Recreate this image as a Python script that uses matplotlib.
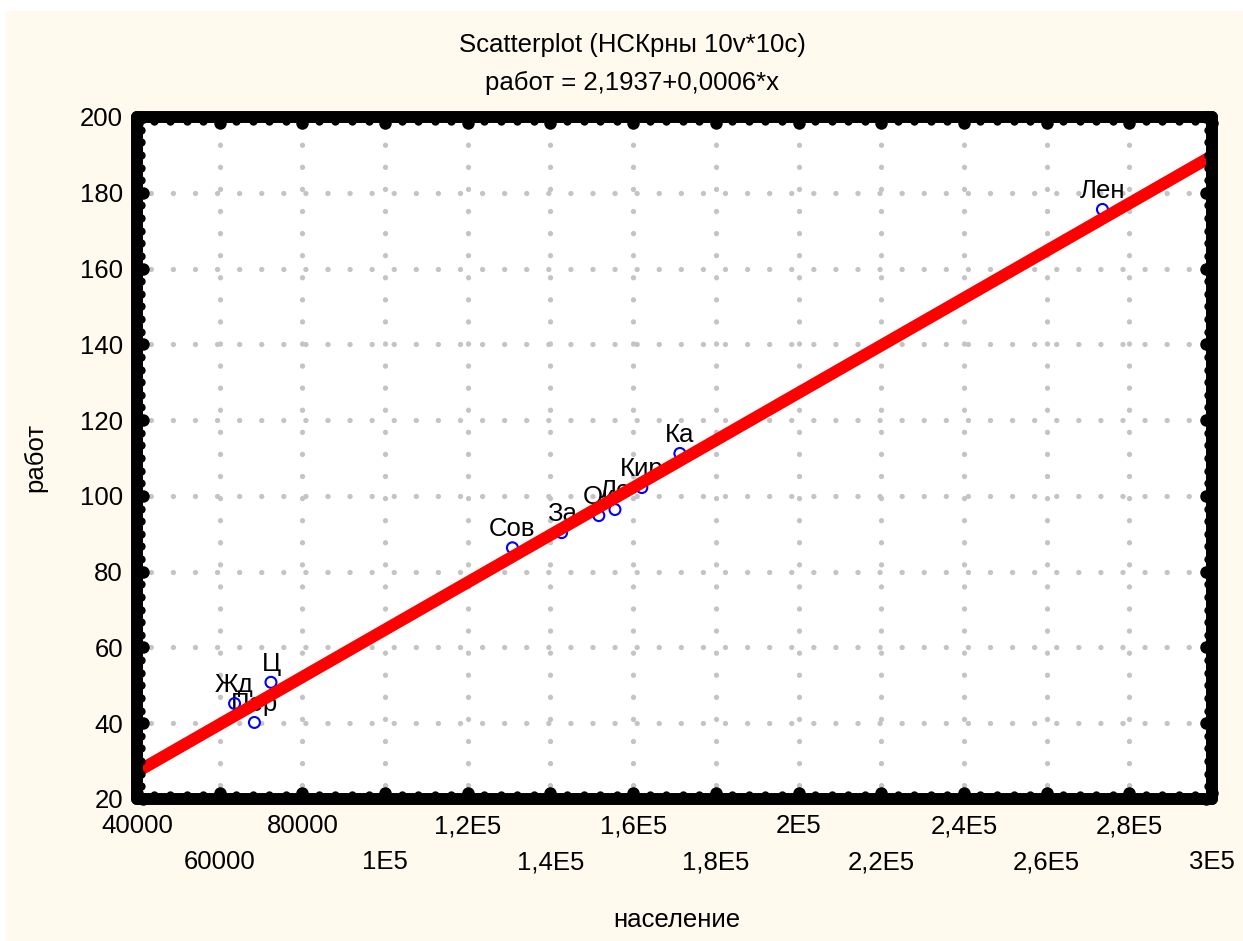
import matplotlib
matplotlib.use("Agg")
import matplotlib.pyplot as plt
import matplotlib.transforms as mtransforms
from matplotlib.patches import Rectangle
from matplotlib.ticker import AutoMinorLocator, FixedLocator
import numpy as np

# ---- data ----
names = ["Жд", "Ц", "Пер", "Сов", "За", "Ок", "Ле", "Кир", "Ка", "Лен"]
population = [63600, 72400, 68400, 130800, 142700, 151700, 155600, 162100, 171300, 273500]
jobs = [45.2, 50.8, 40.2, 86.3, 90.3, 94.8, 96.4, 102.2, 111.2, 175.6]
intercept = 2.1937
slope = 0.000625
x_ticks = list(range(40000, 300001, 20000))
x_tick_labels = ["40000", "60000", "80000", "1E5", "1,2E5", "1,4E5", "1,6E5",
                 "1,8E5", "2E5", "2,2E5", "2,4E5", "2,6E5", "2,8E5", "3E5"]
y_ticks = list(range(20, 201, 20))
title_line1 = "Scatterplot (НСКрны 10v*10c)"
title_line2 = "работ = 2,1937+0,0006*x"
x_label = "население"
y_label = "работ"

plt.rcParams['font.family'] = ['Liberation Sans', 'DejaVu Sans']
plt.rcParams['lines.scale_dashes'] = False
FS = 18.5
W, H = 1243, 941

fig = plt.figure(figsize=(W / 100, H / 100), dpi=100, facecolor='white')
fig.patches.append(Rectangle((6 / W, 0), 1, 1 - 11 / H, transform=fig.transFigure,
                             facecolor='#FFF9EE', edgecolor='none', zorder=-10))

L, R, T, B = 137, 1212, 117, 799
ax = fig.add_axes([L / W, 1 - B / H, (R - L) / W, (B - T) / H])
ax.set_facecolor('white')
ax.set_xlim(40000, 300000)
ax.set_ylim(20, 200)

ax.xaxis.set_major_locator(FixedLocator(x_ticks))
ax.yaxis.set_major_locator(FixedLocator(y_ticks))
ax.xaxis.set_minor_locator(AutoMinorLocator(5))
ax.yaxis.set_minor_locator(AutoMinorLocator(6))

disp_labels = [lab if i % 2 == 0 else "\n" + lab for i, lab in enumerate(x_tick_labels)]
ax.set_xticklabels(disp_labels, fontsize=FS)
ax.set_yticklabels([str(v) for v in y_ticks], fontsize=FS)
for lbl in ax.get_xticklabels():
    lbl.set_linespacing(1.62)
ax.tick_params(which='both', length=0)
ax.tick_params(axis='x', pad=11)
ax.tick_params(axis='y', pad=10)

# dotted grid at the major tick positions (dot every ~22 px)
xmaj = ax.xaxis.get_majorticklocs()
xmin = ax.xaxis.get_minorticklocs()
ymaj = ax.yaxis.get_majorticklocs()
ymin = ax.yaxis.get_minorticklocs()
grid_style = (6.0, (0.1, 15.8))
for v in xmaj:
    ax.axvline(v, color='#C4C4C4', linewidth=3.8, linestyle=grid_style,
               dash_capstyle='round', zorder=1)
for v in ymaj:
    ax.axhline(v, color='#C4C4C4', linewidth=3.8, linestyle=grid_style,
               dash_capstyle='round', zorder=1)

# frame
for s in ax.spines.values():
    s.set_linewidth(8.6)
    s.set_capstyle('round')
    s.set_joinstyle('round')
    s.set_zorder(6)

# tick bumps on the inner side of the frame
xt = ax.get_xaxis_transform()
yt = ax.get_yaxis_transform()
for locs, ms, off in [(xmaj, 9.0, 6), (xmin, 6.0, 4)]:
    for yy, sign in [(0, 1), (1, -1)]:
        tr = mtransforms.offset_copy(xt, fig=fig, x=0, y=sign * off, units='dots')
        ax.plot(locs, [yy] * len(locs), 'o', color='black', ms=ms, mew=0,
                transform=tr, clip_on=False, zorder=7)
for locs, ms, off in [(ymaj, 9.0, 6), (ymin, 6.0, 4)]:
    for xx, sign in [(0, 1), (1, -1)]:
        tr = mtransforms.offset_copy(yt, fig=fig, x=sign * off, y=0, units='dots')
        ax.plot([xx] * len(locs), locs, 'o', color='black', ms=ms, mew=0,
                transform=tr, clip_on=False, zorder=7)

# points and labels
ax.scatter(population, jobs, s=62, facecolors='none', edgecolors='#0000FF',
           linewidths=1.5, zorder=3)
for n, x, y in zip(names, population, jobs):
    ax.annotate(n, (x, y), xytext=(0, 8.4), textcoords='offset points',
                ha='center', va='baseline', fontsize=FS, zorder=2)

# regression line
xs = np.array(ax.get_xlim())
ax.plot(xs, intercept + slope * xs, color='#FF0000', lw=8.7,
        solid_capstyle='butt', zorder=4)

# titles and axis labels
fig.text(632 / W, 1 - 45 / H, title_line1, ha='center', va='center', fontsize=FS)
fig.text(632 / W, 1 - 83 / H, title_line2, ha='center', va='center', fontsize=FS)
fig.text(677 / W, 1 - 920 / H, x_label, ha='center', va='center', fontsize=FS)
fig.text(35 / W, 1 - 457 / H, y_label, ha='center', va='center', fontsize=FS,
         rotation=90)

fig.savefig("out.png", dpi=100, facecolor=fig.get_facecolor())
